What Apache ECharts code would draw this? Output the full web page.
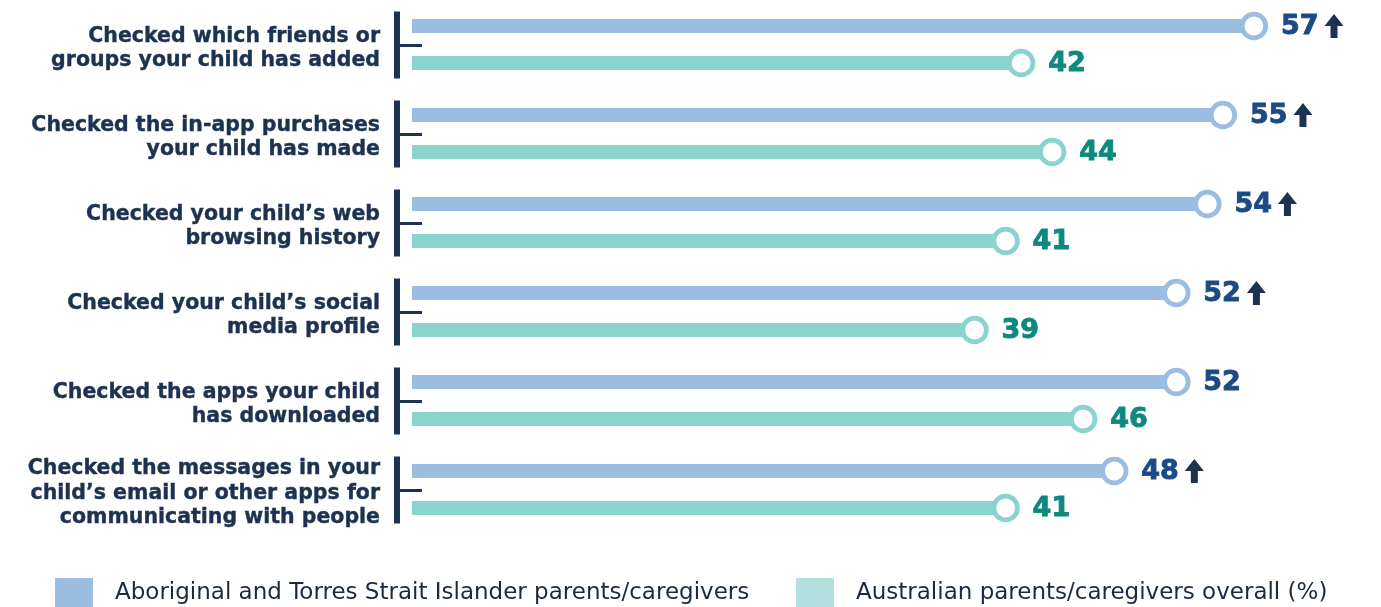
<!DOCTYPE html>
<html>
<head>
<meta charset="utf-8">
<script src="https://cdn.jsdelivr.net/npm/echarts@6/dist/echarts.min.js"></script>
<style>
  html, body { margin: 0; padding: 0; background: #ffffff; }
  #chart { width: 1381px; height: 607px; }
</style>
</head>
<body>
<div id="chart"></div>
<script>
// Parental monitoring activities, % of parents/caregivers
const categories = [
  'Checked which friends or\ngroups your child has added',
  'Checked the in-app purchases\nyour child has made',
  'Checked your child\u2019s web\nbrowsing history',
  'Checked your child\u2019s social\nmedia profile',
  'Checked the apps your child\nhas downloaded',
  'Checked the messages in your\nchild\u2019s email or other apps for\ncommunicating with people'
];
const aboriginalValues = [57, 55, 54, 52, 52, 48];
const overallValues = [42, 44, 41, 39, 46, 41];
// true = significantly higher than the overall figure (shown with an up arrow)
const significantlyHigher = [true, true, true, true, false, true];
const seriesNames = [
  'Aboriginal and Torres Strait Islander parents/caregivers',
  'Australian parents/caregivers overall (%)'
];

const NAVY = '#1d3250';
const BLUE_BAR = '#9abde1';
const GREEN_BAR = '#8bd4cd';
const BLUE_TEXT = '#1c4a83';
const GREEN_TEXT = '#0d897d';
const LEGEND_GREEN = '#b2e0de';
const X_MIN = 2.75;
const X_MAX = 63.19;
const VALUE_FONT = 'bold 27px "DejaVu Sans"';
const CATEGORY_FONT = 'bold 20.5px "DejaVu Sans"';

const measureCtx = document.createElement('canvas').getContext('2d');
function textWidth(str, font) {
  measureCtx.font = font;
  return measureCtx.measureText(str).width;
}

function makeRenderer(isBlue) {
  const barColor = isBlue ? BLUE_BAR : GREEN_BAR;
  const textColor = isBlue ? BLUE_TEXT : GREEN_TEXT;
  return function (params, api) {
    const v = api.value(0);
    const idx = api.value(1);
    const flag = api.value(2);
    const start = api.coord([X_MIN, idx]);
    const end = api.coord([v, idx]);
    const cy = end[1] + (isBlue ? -18.5 : 18.5);
    const children = [];

    // category label and bracket (drawn once per row, with the first series)
    if (isBlue) {
      const bx = params.coordSys.x - 18;
      children.push({
        type: 'text',
        x: params.coordSys.x - 32,
        y: end[1] + 4,
        style: {
          text: categories[idx],
          font: CATEGORY_FONT,
          lineHeight: 24.5,
          fill: NAVY,
          stroke: NAVY,
          lineWidth: 0.4,
          align: 'right',
          verticalAlign: 'middle'
        }
      });
      children.push({
        type: 'rect',
        shape: { x: bx, y: end[1] - 33, width: 6, height: 67 },
        style: { fill: NAVY }
      });
      children.push({
        type: 'rect',
        shape: { x: bx + 6, y: end[1] - 0.5, width: 22, height: 3 },
        style: { fill: NAVY }
      });
    }

    children.push({
      type: 'rect',
      shape: { x: start[0], y: cy - 7, width: end[0] - start[0], height: 14 },
      style: { fill: barColor }
    });
    children.push({
      type: 'circle',
      shape: { cx: end[0], cy: cy, r: 11.8 },
      style: { fill: '#ffffff', stroke: barColor, lineWidth: 4.8 }
    });
    const label = String(v);
    const tx = end[0] + 27;
    children.push({
      type: 'text',
      x: tx,
      y: cy + 1,
      style: {
        text: label,
        font: VALUE_FONT,
        fill: textColor,
        stroke: textColor,
        lineWidth: 0.9,
        align: 'left',
        verticalAlign: 'middle'
      }
    });
    if (flag) {
      const ax = tx + textWidth(label, VALUE_FONT) + 6;
      const top = cy - 12;
      children.push({
        type: 'polygon',
        shape: {
          points: [
            [ax + 9.5, top],
            [ax + 19, top + 12],
            [ax + 13, top + 12],
            [ax + 13, top + 24],
            [ax + 6, top + 24],
            [ax + 6, top + 12],
            [ax, top + 12]
          ]
        },
        style: { fill: NAVY }
      });
    }
    return { type: 'group', children: children };
  };
}

const chart = echarts.init(document.getElementById('chart'), null, { renderer: 'canvas' });

const legendText = {
  color: '#1b2a40',
  fontFamily: 'DejaVu Sans',
  fontSize: 23,
  padding: [0, 0, 0, 17]
};

chart.setOption({
  backgroundColor: '#ffffff',
  animation: false,
  grid: { left: 412, right: 31, top: -2, height: 536, containLabel: false },
  xAxis: {
    type: 'value',
    min: X_MIN,
    max: X_MAX,
    show: false,
    splitLine: { show: false }
  },
  yAxis: {
    type: 'category',
    data: categories,
    inverse: true,
    axisLine: { show: false },
    axisTick: { show: false },
    splitLine: { show: false },
    axisLabel: { show: false }
  },
  legend: [
    {
      left: 55,
      top: 578,
      padding: 0,
      itemWidth: 38,
      itemHeight: 30,
      icon: 'rect',
      selectedMode: false,
      data: [{ name: seriesNames[0], itemStyle: { color: BLUE_BAR } }],
      textStyle: legendText
    },
    {
      left: 796,
      top: 578,
      padding: 0,
      itemWidth: 38,
      itemHeight: 30,
      icon: 'rect',
      selectedMode: false,
      data: [{ name: seriesNames[1], itemStyle: { color: LEGEND_GREEN } }],
      textStyle: legendText
    }
  ],
  series: [
    {
      name: seriesNames[0],
      type: 'custom',
      itemStyle: { color: BLUE_BAR },
      encode: { x: 0, y: 1 },
      renderItem: makeRenderer(true),
      data: aboriginalValues.map((v, i) => [v, i, significantlyHigher[i] ? 1 : 0])
    },
    {
      name: seriesNames[1],
      type: 'custom',
      itemStyle: { color: LEGEND_GREEN },
      encode: { x: 0, y: 1 },
      renderItem: makeRenderer(false),
      data: overallValues.map((v, i) => [v, i, 0])
    }
  ]
});
</script>
</body>
</html>
